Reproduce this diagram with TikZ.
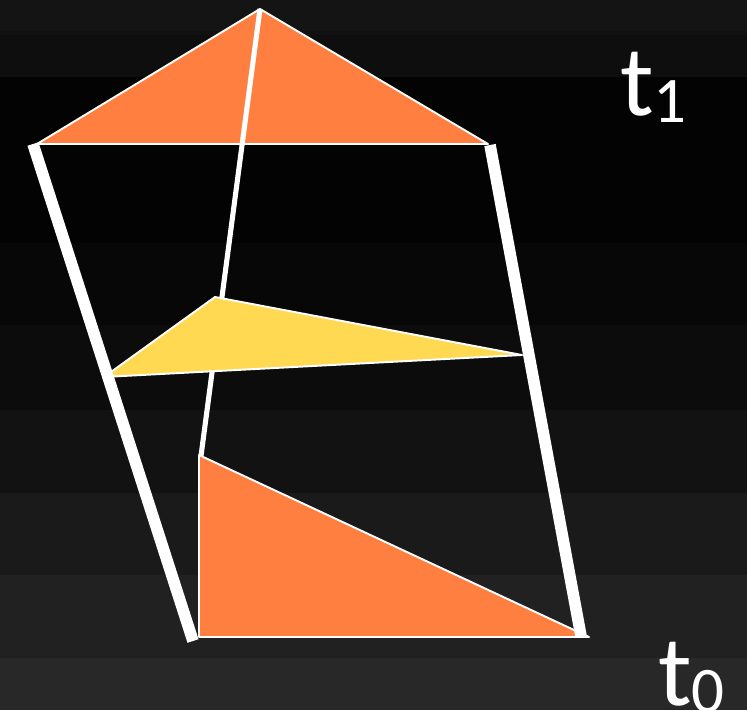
\documentclass[tikz,border=0pt]{standalone}
\usepackage{fontspec}
\setmainfont{Carlito}
\usetikzlibrary{positioning}

\definecolor{triorange}{HTML}{FF7F40}
\definecolor{triyellow}{HTML}{FFD952}

\newcommand{\tstamp}[1]{t\raisebox{-0.07em}{\fontsize{37}{37}\selectfont #1}}

\begin{document}
\begin{tikzpicture}[
    x=0.02cm, y=-0.02cm,
    trifill/.style={fill=#1, draw=white, line width=1.1pt, line join=round},
    thickedge/.style={draw=white, line width=6.6pt},
    thinedge/.style={draw=white, line width=2.9pt},
    timelabel/.style={text=white, font=\fontsize{57}{57}\selectfont, anchor=base west, inner sep=0pt}
]
\useasboundingbox (0,0) rectangle (747,710);

% background bands
\foreach \ya/\yb/\shade in {0/31/92, 31/35/93.5, 35/77/94.5, 77/243/98.8, 243/325/97.3,
    325/410/95.3, 410/493/92.9, 493/575/89.8, 575/658/87, 658/710/84.3}
  \fill[black!\shade] (0,\ya) rectangle (747,\yb);

% triangle corners
\coordinate (apex) at (260,9);
\coordinate (topL) at (37,144);
\coordinate (topR) at (488,144);
\coordinate (midT) at (215,297);
\coordinate (midL) at (104,377);
\coordinate (midR) at (522,355);
\coordinate (botT) at (199,455);
\coordinate (botL) at (199,637);
\coordinate (botR) at (589,637);

% ends of the side tracks
\coordinate (trackLtop) at (33,144);
\coordinate (trackLbot) at (193,641);
\coordinate (trackRtop) at (490,145);
\coordinate (trackRbot) at (581,636);
\coordinate (trackMbot) at (201,456);

% t1 triangle
\draw[trifill=triorange] (apex) -- (topL) -- (topR) -- cycle;

% middle track
\draw[thinedge] (apex) -- (trackMbot);

% in-between triangle
\draw[trifill=triyellow] (midT) -- (midL) -- (midR) -- cycle;

% t0 triangle
\draw[trifill=triorange] (botT) -- (botL) -- (botR) -- cycle;

% side tracks
\draw[thickedge] (trackLtop) -- (trackLbot);
\draw[thickedge] (trackRtop) -- (trackRbot);

% time labels
\node[timelabel] (tone)  at (620,115) {\tstamp{1}};
\node[timelabel] (tzero) at (658,705) {\tstamp{0}};

\end{tikzpicture}
\end{document}
